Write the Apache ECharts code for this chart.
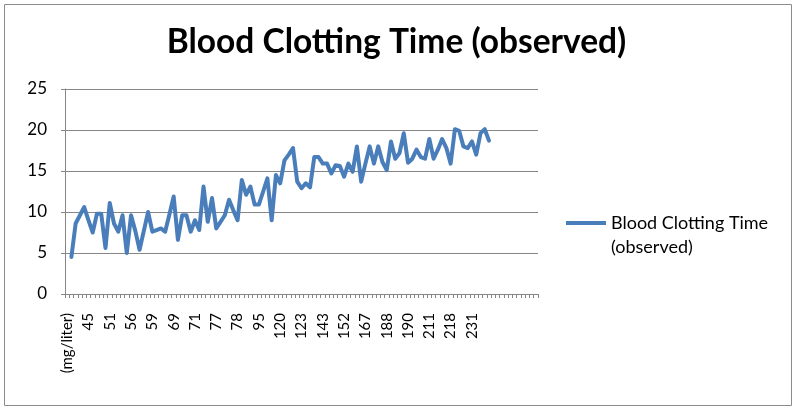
<!DOCTYPE html>
<html>
<head>
<meta charset="utf-8">
<script src="https://cdn.jsdelivr.net/npm/echarts@6/dist/echarts.min.js"></script>
<style>
html,body{margin:0;padding:0;background:#fff;}
#chart{width:793px;height:409px;}
</style>
</head>
<body>
<div id="chart"></div>
<script>
// Category labels shown every 5th category on the x axis
const tickLabels = ['(mg/liter)','45','51','56','59','69','71','77','78','95','120','123','143','152','167','188','190','211','218','231'];
const categoryCount = 111;
const labelStep = 5;
// Blood clotting time (observed), categories 1..99
const clottingTime = [
  4.5, 8.6, 9.6, 10.6, 9.0, 7.5, 9.8, 9.8, 5.6, 11.1,
  8.6, 7.6, 9.6, 5.0, 9.6, 7.7, 5.4, 7.7, 10.0, 7.6,
  7.8, 8.0, 7.6, 9.7, 11.9, 6.6, 9.6, 9.6, 7.6, 9.0,
  7.8, 13.1, 8.8, 11.7, 8.0, 8.8, 9.6, 11.5, 10.2, 9.0,
  13.9, 12.1, 13.1, 10.9, 10.9, 12.5, 14.1, 9.0, 14.5, 13.5,
  16.3, 17.0, 17.8, 13.7, 12.9, 13.5, 13.0, 16.7, 16.7, 15.9,
  15.9, 14.7, 15.7, 15.6, 14.3, 15.9, 14.9, 18.0, 13.7, 15.9,
  18.0, 15.9, 18.0, 16.1, 15.1, 18.6, 16.5, 17.2, 19.6, 16.0,
  16.5, 17.6, 16.7, 16.5, 18.9, 16.5, 17.6, 18.9, 17.8, 15.9,
  20.1, 19.9, 18.0, 17.8, 18.6, 17.0, 19.6, 20.1, 18.7
];
const yTicks = [0, 5, 10, 15, 20, 25];

const categories = [];
for (let i = 0; i < categoryCount; i++) {
  const k = i / labelStep;
  categories.push(i % labelStep === 0 && k < tickLabels.length ? tickLabels[k] : '');
}
const seriesData = [null].concat(clottingTime);

const FONT = 'Lato';
const chart = echarts.init(document.getElementById('chart'), null, {renderer: 'canvas'});
chart.setOption({
  animation: false,
  backgroundColor: '#ffffff',
  title: {
    text: 'Blood Clotting Time (observed)',
    left: 'center',
    top: 25,
    padding: 0,
    textStyle: {fontFamily: FONT, fontWeight: 'bold', fontSize: 33.5, color: '#000'}
  },
  grid: {left: 65, top: 89, right: 255, bottom: 115, containLabel: false},
  legend: {
    left: 566,
    top: 211,
    padding: 0,
    orient: 'vertical',
    icon: 'path://M0,0 L40,0 L40,4 L0,4 Z M0,28 L40,28 Z',
    symbolKeepAspect: false,
    itemWidth: 40,
    itemHeight: 28,
    itemGap: 0,
    itemStyle: {color: '#4A7EBB', borderWidth: 0},
    textStyle: {fontFamily: FONT, fontSize: 18, color: '#000', lineHeight: 24},
    data: [{name: 'Blood Clotting Time\n(observed)'}]
  },
  xAxis: {
    type: 'category',
    data: categories,
    boundaryGap: true,
    axisLine: {show: true, lineStyle: {color: '#868686', width: 1}},
    axisTick: {show: true, interval: 0, length: 4, lineStyle: {color: '#868686'}},
    axisLabel: {interval: labelStep - 1, rotate: 90, margin: 19, fontFamily: FONT, fontSize: 15, color: '#000'},
    splitLine: {show: false}
  },
  yAxis: {
    type: 'value',
    min: yTicks[0],
    max: yTicks[yTicks.length - 1],
    interval: 5,
    axisLine: {show: true, lineStyle: {color: '#868686', width: 1}},
    axisTick: {show: true, length: 4, lineStyle: {color: '#868686'}},
    axisLabel: {margin: 18, fontFamily: FONT, fontSize: 17, color: '#000'},
    splitLine: {show: true, lineStyle: {color: '#868686', width: 1}}
  },
  series: [{
    name: 'Blood Clotting Time\n(observed)',
    type: 'line',
    data: seriesData,
    showSymbol: false,
    symbol: 'none',
    connectNulls: false,
    lineStyle: {color: '#4A7EBB', width: 4, join: 'round', cap: 'round'},
    itemStyle: {color: '#4A7EBB'}
  }],
  graphic: [{
    type: 'rect',
    left: 2, top: 2,
    shape: {x: 0, y: 0, width: 787, height: 401},
    style: {fill: 'none', stroke: '#8c8c8c', lineWidth: 1},
    silent: true
  }]
});
</script>
</body>
</html>
